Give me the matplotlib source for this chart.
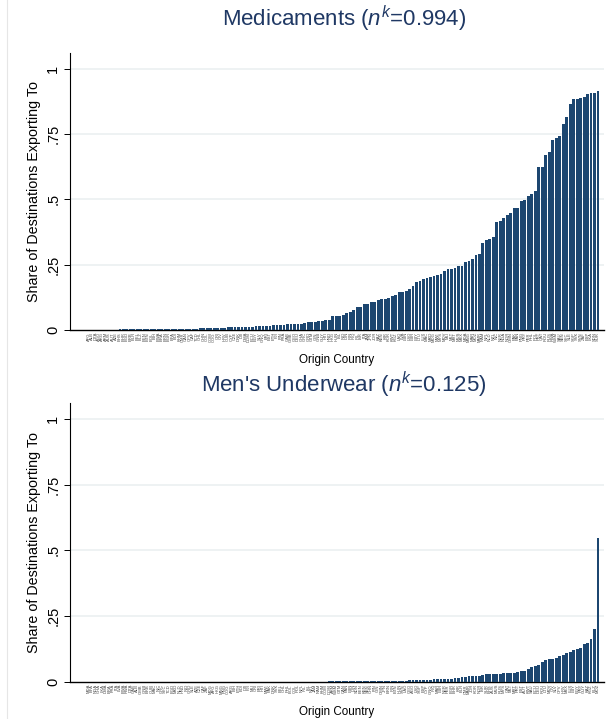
import matplotlib
matplotlib.use("Agg")
import matplotlib.pyplot as plt
from matplotlib.lines import Line2D

#----------------------------------------------------------------------------

plt.rcParams['font.family'] = ['Liberation Sans', 'DejaVu Sans']
plt.rcParams['mathtext.fontset'] = 'custom'
plt.rcParams['mathtext.rm'] = 'Liberation Sans'
plt.rcParams['mathtext.it'] = 'Liberation Sans:italic'

BAR = '#1c4670'
TITLE = '#1f3864'
GRID = '#e9eff0'

# share of destinations, countries sorted from lowest to highest
medicaments = [
    0.0, 0.0, 0.0, 0.0, 0.0,
    0.001, 0.001, 0.001, 0.001, 0.002, 0.002, 0.002, 0.002, 0.002,
    0.002, 0.002, 0.003, 0.003, 0.003, 0.003, 0.003, 0.003, 0.003,
    0.004, 0.004, 0.004, 0.004, 0.004, 0.005, 0.005, 0.005, 0.005,
    0.006, 0.006, 0.007, 0.008, 0.008, 0.008, 0.009, 0.009, 0.010, 0.010,
    0.010, 0.011, 0.012, 0.012, 0.012, 0.013, 0.014, 0.015, 0.015, 0.015,
    0.015, 0.019, 0.019, 0.019, 0.019, 0.023, 0.023, 0.023, 0.023, 0.023,
    0.027, 0.030, 0.031, 0.031, 0.034, 0.036, 0.038, 0.040, 0.054, 0.054,
    0.054, 0.057, 0.064, 0.069, 0.077, 0.088, 0.088, 0.099, 0.099, 0.107,
    0.109, 0.115, 0.119, 0.119, 0.123, 0.130, 0.135, 0.144, 0.146, 0.148,
    0.158, 0.170, 0.183, 0.186, 0.196, 0.199,
    0.202, 0.206, 0.211, 0.215, 0.224, 0.234, 0.235, 0.238, 0.243, 0.245,
    0.259, 0.264, 0.272, 0.286, 0.291, 0.333, 0.346, 0.349, 0.356, 0.414,
    0.418, 0.430, 0.441, 0.448, 0.465, 0.467, 0.494, 0.496, 0.513, 0.519,
    0.533, 0.622, 0.625, 0.670, 0.682, 0.728, 0.736, 0.743, 0.789, 0.814,
    0.866, 0.885, 0.885, 0.889, 0.893, 0.905, 0.908, 0.908, 0.916,
]

underwear = [
    0.0, 0.0, 0.0, 0.0, 0.0, 0.0, 0.0, 0.0, 0.0, 0.0,
    0.0, 0.0, 0.0, 0.0, 0.0, 0.0, 0.0, 0.0, 0.0, 0.0,
    0.0, 0.0, 0.0, 0.0, 0.0, 0.0, 0.0, 0.0, 0.0, 0.0,
    0.0, 0.0, 0.0, 0.0, 0.0, 0.0, 0.0, 0.0, 0.0, 0.0,
    0.0, 0.0, 0.0, 0.0, 0.0, 0.0, 0.0, 0.0, 0.0, 0.0,
    0.0, 0.0, 0.0, 0.0,
    0.001, 0.001, 0.001, 0.001, 0.001, 0.001, 0.001, 0.001, 0.001, 0.001,
    0.001, 0.001, 0.001, 0.001, 0.001, 0.002, 0.002, 0.002, 0.002, 0.002,
    0.002, 0.002, 0.002, 0.002, 0.002, 0.002, 0.002, 0.002, 0.002,
    0.0025, 0.0025, 0.003, 0.003, 0.003, 0.003, 0.004, 0.004, 0.005, 0.006,
    0.006, 0.006, 0.006, 0.006, 0.006, 0.008, 0.010, 0.010, 0.010, 0.010,
    0.010, 0.013, 0.014, 0.015, 0.018, 0.018, 0.022, 0.022, 0.022, 0.022,
    0.025, 0.029, 0.029, 0.029, 0.029,
    0.032, 0.033, 0.034, 0.035, 0.035, 0.038, 0.042, 0.043, 0.051, 0.056,
    0.062, 0.065, 0.076, 0.085, 0.086, 0.089, 0.093, 0.099, 0.101, 0.110,
    0.114, 0.120, 0.127, 0.131, 0.146, 0.150, 0.162, 0.203, 0.546,
]

# origin country codes (tick labels)
countries = [
    'AFG', 'ALB', 'DZA', 'AGO', 'ARG', 'ARM', 'AUS', 'AUT', 'AZE', 'BHS',
    'BHR', 'BGD', 'BRB', 'BLR', 'BEL', 'BLZ', 'BEN', 'BTN', 'BOL', 'BIH',
    'BWA', 'BRA', 'BRN', 'BGR', 'BFA', 'BDI', 'KHM', 'CMR', 'CAN', 'CPV',
    'CAF', 'TCD', 'CHL', 'CHN', 'COL', 'COM', 'COG', 'CRI', 'CIV', 'HRV',
    'CUB', 'CYP', 'CZE', 'DNK', 'DJI', 'DMA', 'DOM', 'ECU', 'EGY', 'SLV',
    'GNQ', 'ERI', 'EST', 'ETH', 'FJI', 'FIN', 'FRA', 'GAB', 'GMB', 'GEO',
    'DEU', 'GHA', 'GRC', 'GRD', 'GTM', 'GIN', 'GNB', 'GUY', 'HTI', 'HND',
    'HKG', 'HUN', 'ISL', 'IND', 'IDN', 'IRN', 'IRQ', 'IRL', 'ISR', 'ITA',
    'JAM', 'JPN', 'JOR', 'KAZ', 'KEN', 'KIR', 'KOR', 'KWT', 'KGZ', 'LAO',
    'LVA', 'LBN', 'LSO', 'LBR', 'LBY', 'LTU', 'LUX', 'MAC', 'MKD', 'MDG',
    'MWI', 'MYS', 'MDV', 'MLI', 'MLT', 'MRT', 'MUS', 'MEX', 'MDA', 'MNG',
    'MAR', 'MOZ', 'MMR', 'NAM', 'NPL', 'NLD', 'NZL', 'NIC', 'NER', 'NGA',
    'NOR', 'OMN', 'PAK', 'PAN', 'PNG', 'PRY', 'PER', 'PHL', 'POL', 'PRT',
    'QAT', 'ROU', 'RUS', 'RWA', 'WSM', 'SAU', 'SEN', 'SYC', 'SLE', 'SGP',
    'SVK', 'SVN', 'ZAF', 'ESP', 'LKA', 'SDN', 'SUR', 'SWE', 'CHE', 'SYR',
]

yticks = [0, 0.25, 0.5, 0.75, 1]
ytick_labels = ['0', '.25', '.5', '.75', '1']

#----------------------------------------------------------------------------

def _panel(ax, share, labels, title, title_y):
    n = len(share)
    x = list(range(n))
    ax.bar(x, share, width=0.8, color=BAR, edgecolor='none', zorder=3)

    ax.set_xlim(-5.3, n + 0.7)
    ax.set_ylim(0, 1.06)
    ax.set_yticks(yticks)
    ax.set_yticklabels(ytick_labels, rotation=90, va='center', fontsize=10.5)
    ax.tick_params(axis='y', length=4, width=0.7, pad=3)
    for t in yticks[1:]:
        ax.axhline(t, color=GRID, lw=1.1, zorder=1)

    ax.set_xticks(x)
    ax.set_xticklabels(labels, rotation=90, fontsize=3.0, color='#444444')
    ax.tick_params(axis='x', length=0, pad=1.5)

    for s in ['top', 'right']:
        ax.spines[s].set_visible(False)
    ax.spines['left'].set_linewidth(0.8)
    ax.spines['bottom'].set_linewidth(1.0)

    ax.set_ylabel('Share of Destinations Exporting To', fontsize=10.3, labelpad=4)
    ax.set_xlabel('Origin Country', fontsize=8.4)
    # 'Origin Country' sits about 30 px under the baseline
    ax.xaxis.set_label_coords(0.5, -30 / ax.bbox.height)
    ax.xaxis.label.set_va('center')
    ax.figure.text(344 / 613, 1 - title_y / 719, title, ha='center',
                   va='center', fontsize=16, color=TITLE)

#----------------------------------------------------------------------------

fig = plt.figure(figsize=(6.13, 7.19), dpi=100)
fig.add_artist(Line2D([7 / 613, 7 / 613], [0, 1], color='#e6e6e6', lw=0.8))

left = 70 / 613
width = (604 - 70) / 613
ax1 = fig.add_axes([left, 1 - 330 / 719, width, 277 / 719])
ax2 = fig.add_axes([left, 1 - 682 / 719, width, 279 / 719])

n = len(medicaments)
_panel(ax1, medicaments, countries[:n], r'Medicaments ($n^{k}$=0.994)', 19)
names_b = sorted(countries[:n], key=lambda s: s[::-1])
_panel(ax2, underwear, names_b, r"Men's Underwear ($n^{k}$=0.125)", 385)

fig.savefig('out.png', dpi=100)
